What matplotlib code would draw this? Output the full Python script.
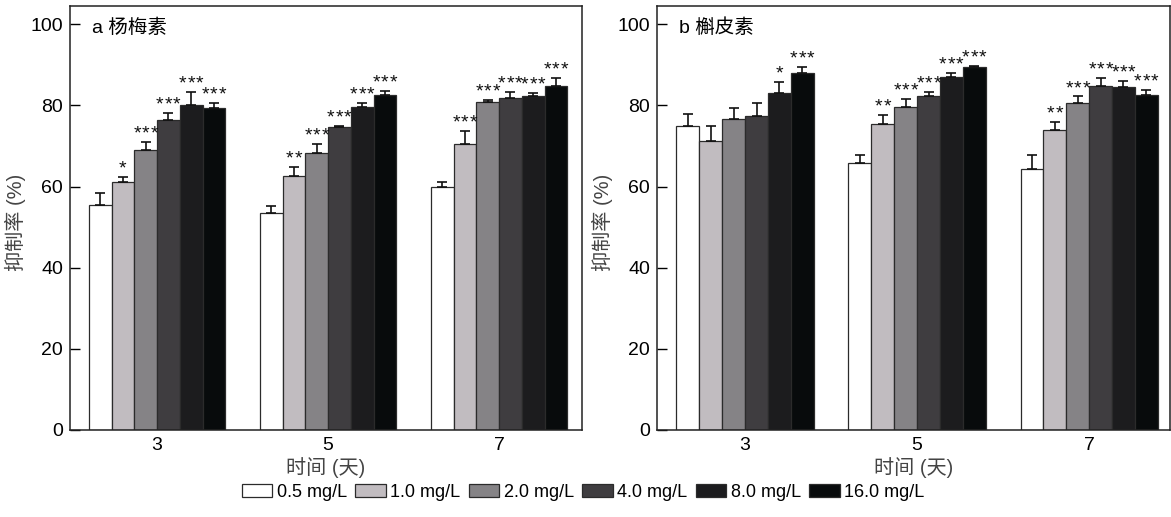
import matplotlib.pyplot as plt
import numpy as np

plt.rcParams['font.family'] = ['Liberation Sans', 'Noto Sans CJK SC', 'DejaVu Sans']

# data
days = ['3', '5', '7']
doses = ['0.5 mg/L', '1.0 mg/L', '2.0 mg/L', '4.0 mg/L', '8.0 mg/L', '16.0 mg/L']
colors = ['#ffffff', '#c1bcc0', '#858386', '#3f3d40', '#1c1c1e', '#080b0c']

# panel a: rows = dose, cols = day
a_mean = [
    [55.5, 53.4, 59.9],
    [61.1, 62.5, 70.6],
    [68.9, 68.2, 80.8],
    [76.3, 74.6, 81.8],
    [80.2, 79.7, 82.4],
    [79.3, 82.5, 84.9],
]
a_err = [
    [2.9, 1.7, 1.1],
    [1.3, 2.3, 3.2],
    [2.2, 2.3, 0.6],
    [1.9, 0.4, 1.5],
    [3.0, 1.0, 0.7],
    [1.3, 1.1, 1.8],
]
a_sig = [
    ['', '', ''],
    ['*', '**', '***'],
    ['***', '***', '***'],
    ['***', '***', '***'],
    ['***', '***', '***'],
    ['***', '***', '***'],
]

# panel b
b_mean = [
    [74.9, 65.9, 64.3],
    [71.3, 75.3, 73.9],
    [76.6, 79.5, 80.5],
    [77.4, 82.4, 84.8],
    [83.1, 87.0, 84.5],
    [87.9, 89.4, 82.5],
]
b_err = [
    [2.9, 1.8, 3.5],
    [3.6, 2.3, 2.0],
    [2.7, 2.0, 1.7],
    [3.1, 0.9, 1.9],
    [2.7, 1.0, 1.5],
    [1.5, 0.4, 1.3],
]
b_sig = [
    ['', '', ''],
    ['', '**', '**'],
    ['', '***', '***'],
    ['', '***', '***'],
    ['*', '***', '***'],
    ['***', '***', '***'],
]

fig = plt.figure(figsize=(11.71, 5.17), dpi=100)
ax1 = fig.add_axes([70 / 1171, 87 / 517, 512 / 1171, 424 / 517])
ax2 = fig.add_axes([657 / 1171, 87 / 517, 513 / 1171, 424 / 517])

x = np.arange(len(days))
w = 0.133
star_gap = 6.1  # points between star centres


def draw(ax, mean, err, sig, title, xlim):
    handles = []
    for i in range(len(doses)):
        pos = x + (i - 2.5) * w
        b = ax.bar(pos, mean[i], w, color=colors[i], edgecolor='#2b2b2b', linewidth=0.9,
                   label=doses[i], zorder=2)
        handles.append(b)
        ax.errorbar(pos, mean[i], yerr=[np.zeros(3), err[i]], fmt='none', ecolor='#111111',
                    elinewidth=1.2, capsize=3.5, capthick=1.2, zorder=3)
        for j in range(len(days)):
            n = len(sig[i][j])
            for k in range(n):
                dx = (k - (n - 1) / 2) * star_gap
                ax.annotate('*', (pos[j], mean[i][j] + err[i][j]), xytext=(dx, 2.5),
                            textcoords='offset points', ha='center', va='baseline',
                            fontsize=14, color='#111111')
    ax.set_ylim(0, 104.5)
    ax.set_xlim(*xlim)
    ax.set_yticks([0, 20, 40, 60, 80, 100])
    ax.set_xticks(x)
    ax.set_xticklabels(days)
    ax.tick_params(axis='y', direction='in', length=7, width=1, labelsize=14, pad=5)
    ax.tick_params(axis='x', length=0, labelsize=14, pad=5)
    for s in ax.spines.values():
        s.set_linewidth(1.1)
        s.set_color('#222222')
    ax.set_ylabel('抑制率 (%)', fontsize=14.5, color='#444444')
    ax.yaxis.set_label_coords(-0.085, 0.49)
    ax.set_xlabel('时间 (天)', fontsize=14.5, color='#444444', labelpad=2)
    ax.text(0.043, 0.948, title, transform=ax.transAxes, ha='left', va='center', fontsize=14)
    return handles


h = draw(ax1, a_mean, a_err, a_sig, 'a 杨梅素', (-0.509, 2.485))
draw(ax2, b_mean, b_err, b_sig, 'b 槲皮素', (-0.512, 2.47))

fig.legend(handles=h, labels=doses, loc='center', bbox_to_anchor=(0.498, 0.048), ncol=6,
           frameon=False, fontsize=13, handlelength=1.7, handleheight=0.7,
           handletextpad=0.25, columnspacing=0.45, borderaxespad=0)

fig.savefig('out.png', dpi=100)
